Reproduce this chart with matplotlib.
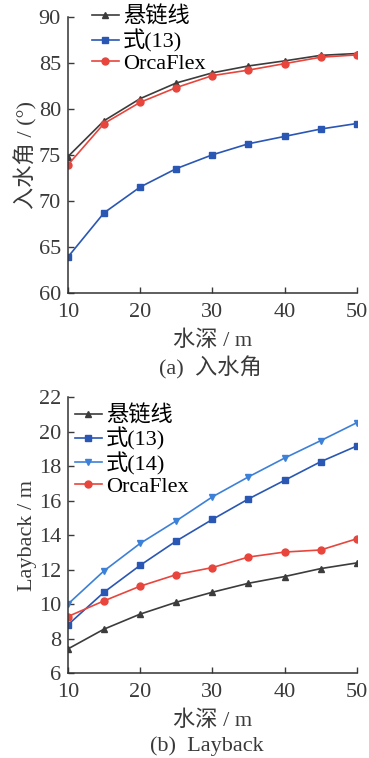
import matplotlib.pyplot as plt

plt.rcParams['font.family'] = ['Liberation Serif', 'Noto Sans CJK SC']
plt.rcParams['axes.unicode_minus'] = False

depth = [10, 15, 20, 25, 30, 35, 40, 45, 50]

# (a) entry angle, degrees
angle_catenary = [74.8, 78.7, 81.1, 82.8, 83.9, 84.65, 85.2, 85.8, 86.0]
angle_eq13 = [63.9, 68.7, 71.5, 73.5, 75.0, 76.2, 77.0, 77.8, 78.4]
angle_orcaflex = [73.9, 78.4, 80.7, 82.3, 83.6, 84.2, 84.9, 85.6, 85.85]

# (b) layback, m
lay_catenary = [7.4, 8.55, 9.42, 10.11, 10.69, 11.21, 11.6, 12.06, 12.39]
lay_eq13 = [8.8, 10.69, 12.25, 13.66, 14.91, 16.1, 17.18, 18.26, 19.17]
lay_eq14 = [10.0, 11.93, 13.52, 14.83, 16.22, 17.38, 18.47, 19.48, 20.52]
lay_orcaflex = [9.28, 10.19, 11.04, 11.71, 12.12, 12.73, 13.02, 13.14, 13.79]

c_black = '#3c3c3c'
c_blue = '#2a56b4'
c_lblue = '#3d80d8'
c_red = '#e8453c'
c_text = '#3a3a3a'
fs = 16

fig = plt.figure(figsize=(3.69, 7.58), dpi=100)
ax1 = fig.add_axes([0.184, 0.6135, 0.783, 0.3645])
ax2 = fig.add_axes([0.184, 0.112, 0.783, 0.364])

def style(ax):
    for s in ['top', 'right']:
        ax.spines[s].set_visible(False)
    for s in ['left', 'bottom']:
        ax.spines[s].set_linewidth(1.1)
        ax.spines[s].set_color('#333333')
    ax.tick_params(direction='in', length=4, width=1.0, labelsize=fs,
                   colors=c_text)
    ax.tick_params(axis='x', pad=7)
    ax.tick_params(axis='y', pad=5)
    ax.set_xlim(10, 50)
    ax.set_xticks([10, 20, 30, 40, 50])

leg_kw = dict(loc='upper left', frameon=False, fontsize=fs, handlelength=1.2,
              handletextpad=0.2, labelspacing=0.05, borderpad=0,
              borderaxespad=0)

ms = 5
ax1.plot(depth, angle_catenary, '-^', color=c_black, lw=1.2, ms=ms, label='悬链线')
ax1.plot(depth, angle_eq13, '-s', color=c_blue, lw=1.2, ms=ms, label='式(13)')
ax1.plot(depth, angle_orcaflex, '-o', color=c_red, lw=1.2, ms=ms, label='OrcaFlex')
style(ax1)
ax1.set_ylim(60, 90)
ax1.set_yticks([60, 65, 70, 75, 80, 85, 90])
ax1.set_ylabel('入水角 / (°)', fontsize=fs, color=c_text, labelpad=1)
ax1.set_xlabel('水深 / m', fontsize=fs, color=c_text, labelpad=6)
ax1.legend(bbox_to_anchor=(0.083, 1.035), **leg_kw)

ax2.plot(depth, lay_catenary, '-^', color=c_black, lw=1.2, ms=ms, label='悬链线')
ax2.plot(depth, lay_eq13, '-s', color=c_blue, lw=1.2, ms=ms, label='式(13)')
ax2.plot(depth, lay_eq14, '-v', color=c_lblue, lw=1.2, ms=ms, label='式(14)')
ax2.plot(depth, lay_orcaflex, '-o', color=c_red, lw=1.2, ms=ms, label='OrcaFlex')
style(ax2)
ax2.set_ylim(6, 22)
ax2.set_yticks(range(6, 23, 2))
ax2.set_ylabel('Layback / m', fontsize=fs, color=c_text, labelpad=1)
ax2.set_xlabel('水深 / m', fontsize=fs, color=c_text, labelpad=6)
ax2.legend(bbox_to_anchor=(0.025, 0.97), **leg_kw)

fig.text(0.57, 1 - 368 / 758, '(a)  入水角', ha='center', va='center',
         fontsize=fs, color=c_text)
fig.text(0.56, 1 - 746 / 758, '(b)  Layback', ha='center', va='center',
         fontsize=fs, color=c_text)

fig.savefig('out.png', dpi=100)
